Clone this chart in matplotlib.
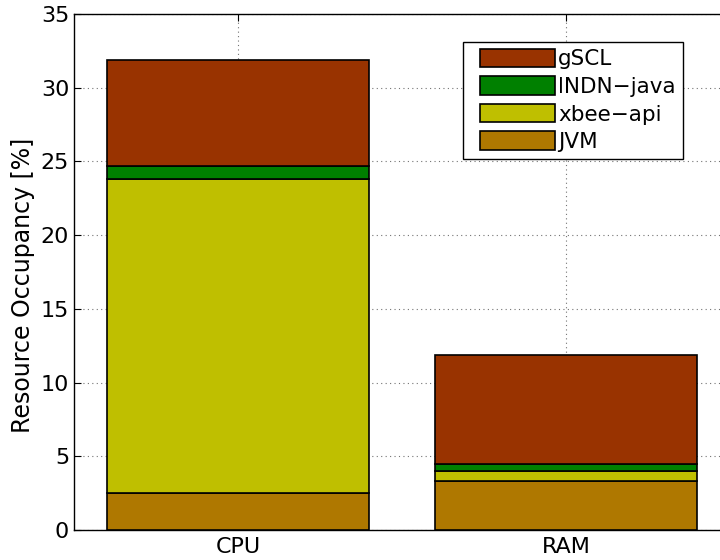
import matplotlib
matplotlib.use('Agg')
import matplotlib.pyplot as plt
from matplotlib.legend_handler import HandlerPatch
from matplotlib.patches import Rectangle
import numpy as np

plt.rcParams['font.family'] = ['DejaVu Sans']

categories = ['CPU', 'RAM']
series_names = ['JVM', 'xbee\u2212api', 'lNDN\u2212java', 'gSCL']
jvm = [2.5, 3.3]
xbee_api = [21.3, 0.7]
lndn_java = [0.9, 0.5]
gscl = [7.2, 7.4]
colors = ['#AF7800', '#BFBF00', '#008000', '#993300']


def _legend_patch(legend, orig_handle, xdescent, ydescent, width, height, fontsize):
	# leave some empty room left of the colour box, like the matlab legend
	off = 0.12 * width
	return Rectangle((-xdescent + off, -ydescent), width - off, height)


fig = plt.figure(figsize=(7.2, 5.6), dpi=100)
ax = fig.add_axes([74 / 720, 30 / 560, 656 / 720, 516 / 560])

x = np.arange(1, len(categories) + 1)
bottom = np.zeros(len(categories))
handles = []
for vals, name, c in zip([jvm, xbee_api, lndn_java, gscl], series_names, colors):
	h = ax.bar(x, vals, 0.8, bottom=bottom, color=c, edgecolor='black', linewidth=1.2, label=name, zorder=3)
	handles.append(h)
	bottom += np.array(vals)

ax.set_xlim(0.5, 2.5)
ax.set_ylim(0, 35)
ax.set_xticks(x)
ax.set_xticklabels(categories)
ax.set_yticks(np.arange(0, 36, 5))
ax.tick_params(direction='in', length=5, labelsize=16, top=True, right=True, width=0.8)
ax.tick_params(axis='x', pad=5)
ax.set_ylabel('Resource Occupancy [%]', fontsize=17)
ax.yaxis.set_label_coords(-0.0595, 0.475)
ax.grid(True, linestyle=(0, (1, 3)), color='0.45', linewidth=0.8, zorder=0)
for s in ax.spines.values():
	s.set_linewidth(1.0)

leg = ax.legend([h.patches[0] for h in handles[::-1]], series_names[::-1], loc='upper right',
	bbox_to_anchor=(0.928, 0.946), borderaxespad=0, fontsize=15.5, handlelength=3.95, handleheight=0.95,
	labelspacing=0.32, handletextpad=0.15, borderpad=0.32, fancybox=False, framealpha=1, edgecolor='black',
	handler_map={Rectangle: HandlerPatch(patch_func=_legend_patch)})
leg.get_frame().set_linewidth(1.0)

fig.savefig('out.png', dpi=100)
